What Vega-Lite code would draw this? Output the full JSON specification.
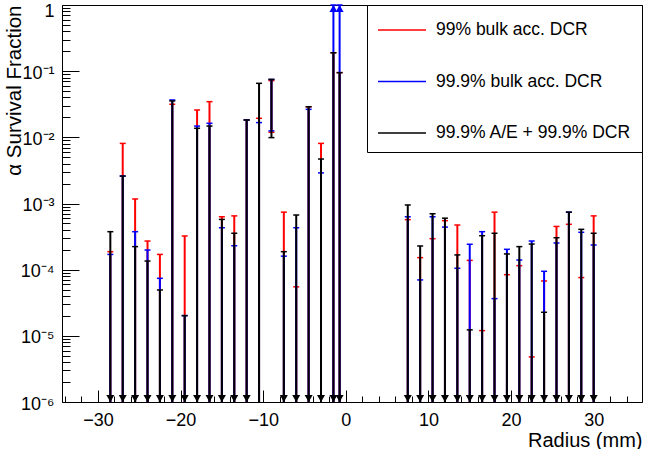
{
 "$schema": "https://vega.github.io/schema/vega-lite/v6.json",
 "width": 580, "height": 397,
 "autosize": {"type": "none"},
 "padding": {"left": 62, "top": 5, "right": 4, "bottom": 47},
 "background": "white",
 "config": {
  "font": "Liberation Sans",
  "view": {"stroke": "black", "strokeWidth": 1},
  "legend": {"orient": "none", "legendX": 305, "legendY": 0, "symbolType": "M-1,0H2.4286", "symbolSize": 784, "symbolStrokeWidth": 1.5, "labelFont": "Liberation Sans", "labelFontSize": 17.5, "labelColor": "black", "labelOffset": 29, "padding": 10, "rowPadding": 27.5, "fillColor": "white", "strokeColor": "black", "cornerRadius": 0, "labelLimit": 400}
 },
 "resolve": {"axis": {"x": "independent", "y": "independent"}},
 "data": {"values": [
  {"r":-28.5,"s":"99% bulk acc. DCR","lo":1e-6,"hi":1.87e-4,"a":"down"},
  {"r":-28.5,"s":"99.9% bulk acc. DCR","lo":1e-6,"hi":1.7e-4,"a":"down"},
  {"r":-28.5,"s":"99.9% A/E + 99.9% DCR","lo":1e-6,"hi":3.75e-4,"a":"down"},
  {"r":-27,"s":"99% bulk acc. DCR","lo":1e-6,"hi":8.1e-3,"a":"down"},
  {"r":-27,"s":"99.9% bulk acc. DCR","lo":1e-6,"hi":2.6e-3,"a":"down"},
  {"r":-27,"s":"99.9% A/E + 99.9% DCR","lo":1e-6,"hi":2.6e-3,"a":"down"},
  {"r":-25.5,"s":"99% bulk acc. DCR","lo":1e-6,"hi":1.17e-3,"a":"down"},
  {"r":-25.5,"s":"99.9% bulk acc. DCR","lo":1e-6,"hi":3.75e-4,"a":"down"},
  {"r":-25.5,"s":"99.9% A/E + 99.9% DCR","lo":1e-6,"hi":2.23e-4,"a":"down"},
  {"r":-24,"s":"99% bulk acc. DCR","lo":1e-6,"hi":2.71e-4,"a":"down"},
  {"r":-24,"s":"99.9% bulk acc. DCR","lo":1e-6,"hi":1.98e-4,"a":"down"},
  {"r":-24,"s":"99.9% A/E + 99.9% DCR","lo":1e-6,"hi":1.35e-4,"a":"down"},
  {"r":-22.5,"s":"99% bulk acc. DCR","lo":1e-6,"hi":1.7e-4,"a":"down"},
  {"r":-22.5,"s":"99.9% bulk acc. DCR","lo":1e-6,"hi":7.4e-5,"a":"down"},
  {"r":-22.5,"s":"99.9% A/E + 99.9% DCR","lo":1e-6,"hi":4.93e-5,"a":"down"},
  {"r":-21,"s":"99% bulk acc. DCR","lo":1e-6,"hi":0.0316,"a":"down"},
  {"r":-21,"s":"99.9% bulk acc. DCR","lo":1e-6,"hi":0.0367,"a":"down"},
  {"r":-21,"s":"99.9% A/E + 99.9% DCR","lo":1e-6,"hi":0.0355,"a":"down"},
  {"r":-19.5,"s":"99% bulk acc. DCR","lo":1e-6,"hi":3.23e-4,"a":"down"},
  {"r":-19.5,"s":"99.9% bulk acc. DCR","lo":1e-6,"hi":2.02e-5,"a":"down"},
  {"r":-19.5,"s":"99.9% A/E + 99.9% DCR","lo":1e-6,"hi":2.02e-5,"a":"down"},
  {"r":-18,"s":"99% bulk acc. DCR","lo":1e-6,"hi":0.0259,"a":"down"},
  {"r":-18,"s":"99.9% bulk acc. DCR","lo":1e-6,"hi":0.0148,"a":"down"},
  {"r":-18,"s":"99.9% A/E + 99.9% DCR","lo":1e-6,"hi":0.0137,"a":"down"},
  {"r":-16.5,"s":"99% bulk acc. DCR","lo":1e-6,"hi":0.0346,"a":"down"},
  {"r":-16.5,"s":"99.9% bulk acc. DCR","lo":1e-6,"hi":0.0163,"a":"down"},
  {"r":-16.5,"s":"99.9% A/E + 99.9% DCR","lo":1e-6,"hi":0.0148,"a":"down"},
  {"r":-15,"s":"99% bulk acc. DCR","lo":1e-6,"hi":6.3e-4,"a":"down"},
  {"r":-15,"s":"99.9% bulk acc. DCR","lo":1e-6,"hi":4.3e-4,"a":"down"},
  {"r":-15,"s":"99.9% A/E + 99.9% DCR","lo":1e-6,"hi":5.75e-4,"a":"down"},
  {"r":-13.5,"s":"99% bulk acc. DCR","lo":1e-6,"hi":6.5e-4,"a":"down"},
  {"r":-13.5,"s":"99.9% bulk acc. DCR","lo":1e-6,"hi":2.3e-4,"a":"down"},
  {"r":-13.5,"s":"99.9% A/E + 99.9% DCR","lo":1e-6,"hi":3.55e-4,"a":"down"},
  {"r":-12,"s":"99% bulk acc. DCR","lo":1e-6,"hi":0.0183,"a":"down"},
  {"r":-12,"s":"99.9% bulk acc. DCR","lo":1e-6,"hi":0.0183,"a":"down"},
  {"r":-12,"s":"99.9% A/E + 99.9% DCR","lo":1e-6,"hi":0.0183,"a":"down"},
  {"r":-10.5,"s":"99% bulk acc. DCR","lo":1e-6,"hi":0.0194,"a":"none"},
  {"r":-10.5,"s":"99.9% bulk acc. DCR","lo":1e-6,"hi":0.0167,"a":"none"},
  {"r":-10.5,"s":"99.9% A/E + 99.9% DCR","lo":1e-6,"hi":0.0655,"a":"none"},
  {"r":-9,"s":"99% bulk acc. DCR","lo":0.0119,"hi":0.072,"a":"none"},
  {"r":-9,"s":"99.9% bulk acc. DCR","lo":0.0125,"hi":0.075,"a":"none"},
  {"r":-9,"s":"99.9% A/E + 99.9% DCR","lo":0.0099,"hi":0.075,"a":"none"},
  {"r":-7.5,"s":"99% bulk acc. DCR","lo":1e-6,"hi":7.4e-4,"a":"down"},
  {"r":-7.5,"s":"99.9% bulk acc. DCR","lo":1e-6,"hi":1.6e-4,"a":"down"},
  {"r":-7.5,"s":"99.9% A/E + 99.9% DCR","lo":1e-6,"hi":1.87e-4,"a":"down"},
  {"r":-6,"s":"99% bulk acc. DCR","lo":1e-6,"hi":5.5e-5,"a":"down"},
  {"r":-6,"s":"99.9% bulk acc. DCR","lo":1e-6,"hi":4.3e-4,"a":"down"},
  {"r":-6,"s":"99.9% A/E + 99.9% DCR","lo":1e-6,"hi":6.7e-4,"a":"down"},
  {"r":-4.5,"s":"99% bulk acc. DCR","lo":1e-6,"hi":0.029,"a":"down"},
  {"r":-4.5,"s":"99.9% bulk acc. DCR","lo":1e-6,"hi":0.0265,"a":"down"},
  {"r":-4.5,"s":"99.9% A/E + 99.9% DCR","lo":1e-6,"hi":0.029,"a":"down"},
  {"r":-3,"s":"99% bulk acc. DCR","lo":1e-6,"hi":8.1e-3,"a":"down"},
  {"r":-3,"s":"99.9% bulk acc. DCR","lo":1e-6,"hi":2.9e-3,"a":"down"},
  {"r":-3,"s":"99.9% A/E + 99.9% DCR","lo":1e-6,"hi":4.7e-3,"a":"down"},
  {"r":-1.5,"s":"99% bulk acc. DCR","lo":1e-6,"hi":0.19,"a":"down"},
  {"r":-1.5,"s":"99.9% bulk acc. DCR","lo":1e-6,"hi":1,"a":"up"},
  {"r":-1.5,"s":"99.9% A/E + 99.9% DCR","lo":1e-6,"hi":0.19,"a":"down"},
  {"r":-0.75,"s":"99% bulk acc. DCR","lo":1e-6,"hi":0.095,"a":"down"},
  {"r":-0.75,"s":"99.9% bulk acc. DCR","lo":1e-6,"hi":1,"a":"up"},
  {"r":-0.75,"s":"99.9% A/E + 99.9% DCR","lo":1e-6,"hi":0.095,"a":"down"},
  {"r":7.5,"s":"99% bulk acc. DCR","lo":1e-6,"hi":5.7e-4,"a":"down"},
  {"r":7.5,"s":"99.9% bulk acc. DCR","lo":1e-6,"hi":6.3e-4,"a":"down"},
  {"r":7.5,"s":"99.9% A/E + 99.9% DCR","lo":1e-6,"hi":9.5e-4,"a":"down"},
  {"r":9,"s":"99% bulk acc. DCR","lo":1e-6,"hi":1.52e-4,"a":"down"},
  {"r":9,"s":"99.9% bulk acc. DCR","lo":1e-6,"hi":7.0e-5,"a":"down"},
  {"r":9,"s":"99.9% A/E + 99.9% DCR","lo":1e-6,"hi":2.28e-4,"a":"down"},
  {"r":10.5,"s":"99% bulk acc. DCR","lo":1e-6,"hi":2.94e-4,"a":"down"},
  {"r":10.5,"s":"99.9% bulk acc. DCR","lo":1e-6,"hi":6.3e-4,"a":"down"},
  {"r":10.5,"s":"99.9% A/E + 99.9% DCR","lo":1e-6,"hi":7.0e-4,"a":"down"},
  {"r":12,"s":"99% bulk acc. DCR","lo":1e-6,"hi":5.5e-4,"a":"down"},
  {"r":12,"s":"99.9% bulk acc. DCR","lo":1e-6,"hi":4.4e-4,"a":"down"},
  {"r":12,"s":"99.9% A/E + 99.9% DCR","lo":1e-6,"hi":6.0e-4,"a":"down"},
  {"r":13.5,"s":"99% bulk acc. DCR","lo":1e-6,"hi":4.73e-4,"a":"down"},
  {"r":13.5,"s":"99.9% bulk acc. DCR","lo":1e-6,"hi":1.05e-4,"a":"down"},
  {"r":13.5,"s":"99.9% A/E + 99.9% DCR","lo":1e-6,"hi":1.67e-4,"a":"down"},
  {"r":15,"s":"99% bulk acc. DCR","lo":1e-6,"hi":1.38e-4,"a":"down"},
  {"r":15,"s":"99.9% bulk acc. DCR","lo":1e-6,"hi":2.42e-4,"a":"down"},
  {"r":15,"s":"99.9% A/E + 99.9% DCR","lo":1e-6,"hi":1.23e-5,"a":"down"},
  {"r":16.5,"s":"99% bulk acc. DCR","lo":1e-6,"hi":1.2e-5,"a":"down"},
  {"r":16.5,"s":"99.9% bulk acc. DCR","lo":1e-6,"hi":3.75e-4,"a":"down"},
  {"r":16.5,"s":"99.9% A/E + 99.9% DCR","lo":1e-6,"hi":3.26e-4,"a":"down"},
  {"r":18,"s":"99% bulk acc. DCR","lo":1e-6,"hi":7.4e-4,"a":"down"},
  {"r":18,"s":"99.9% bulk acc. DCR","lo":1e-6,"hi":3.65e-5,"a":"down"},
  {"r":18,"s":"99.9% A/E + 99.9% DCR","lo":1e-6,"hi":3.55e-4,"a":"down"},
  {"r":19.5,"s":"99% bulk acc. DCR","lo":1e-6,"hi":8.4e-5,"a":"down"},
  {"r":19.5,"s":"99.9% bulk acc. DCR","lo":1e-6,"hi":2.03e-4,"a":"down"},
  {"r":19.5,"s":"99.9% A/E + 99.9% DCR","lo":1e-6,"hi":1.73e-4,"a":"down"},
  {"r":21,"s":"99% bulk acc. DCR","lo":1e-6,"hi":1.15e-4,"a":"down"},
  {"r":21,"s":"99.9% bulk acc. DCR","lo":1e-6,"hi":1.4e-4,"a":"down"},
  {"r":21,"s":"99.9% A/E + 99.9% DCR","lo":1e-6,"hi":2.23e-4,"a":"down"},
  {"r":22.5,"s":"99% bulk acc. DCR","lo":1e-6,"hi":4.8e-6,"a":"down"},
  {"r":22.5,"s":"99.9% bulk acc. DCR","lo":1e-6,"hi":2.71e-4,"a":"down"},
  {"r":22.5,"s":"99.9% A/E + 99.9% DCR","lo":1e-6,"hi":2.44e-4,"a":"down"},
  {"r":24,"s":"99% bulk acc. DCR","lo":1e-6,"hi":6.75e-5,"a":"down"},
  {"r":24,"s":"99.9% bulk acc. DCR","lo":1e-6,"hi":9.45e-5,"a":"down"},
  {"r":24,"s":"99.9% A/E + 99.9% DCR","lo":1e-6,"hi":2.27e-5,"a":"down"},
  {"r":25.5,"s":"99% bulk acc. DCR","lo":1e-6,"hi":4.5e-4,"a":"down"},
  {"r":25.5,"s":"99.9% bulk acc. DCR","lo":1e-6,"hi":2.53e-4,"a":"down"},
  {"r":25.5,"s":"99.9% A/E + 99.9% DCR","lo":1e-6,"hi":3.04e-4,"a":"down"},
  {"r":27,"s":"99% bulk acc. DCR","lo":1e-6,"hi":4.85e-4,"a":"down"},
  {"r":27,"s":"99.9% bulk acc. DCR","lo":1e-6,"hi":7.4e-4,"a":"down"},
  {"r":27,"s":"99.9% A/E + 99.9% DCR","lo":1e-6,"hi":7.4e-4,"a":"down"},
  {"r":28.5,"s":"99% bulk acc. DCR","lo":1e-6,"hi":7.6e-5,"a":"down"},
  {"r":28.5,"s":"99.9% bulk acc. DCR","lo":1e-6,"hi":3.67e-4,"a":"down"},
  {"r":28.5,"s":"99.9% A/E + 99.9% DCR","lo":1e-6,"hi":4.07e-4,"a":"down"},
  {"r":30,"s":"99% bulk acc. DCR","lo":1e-6,"hi":6.5e-4,"a":"down"},
  {"r":30,"s":"99.9% bulk acc. DCR","lo":1e-6,"hi":2.36e-4,"a":"down"},
  {"r":30,"s":"99.9% A/E + 99.9% DCR","lo":1e-6,"hi":3.55e-4,"a":"down"}
 ]},
 "encoding": {
  "x": {"field": "r", "type": "quantitative", "scale": {"domain": [-34.35, 35.85], "nice": false, "zero": false}, "axis": null}
 },
 "layer": [
  {"transform": [{"filter": "datum.s == '99% bulk acc. DCR'"}],
   "mark": {"type": "rule", "strokeWidth": 2},
   "encoding": {
    "x": {"field": "r", "type": "quantitative", "scale": {"domain": [-34.35, 35.85], "nice": false, "zero": false},
     "axis": {"orient": "bottom", "title": "Radius (mm)", "values": [-30,-20,-10,0,10,20,30], "format": "d",
      "tickSize": -12, "tickColor": "black", "domainColor": "black", "labelColor": "black", "titleColor": "black",
      "labelFontSize": 18, "titleFontSize": 20, "titleFontWeight": "normal", "titleAnchor": "end",
      "labelPadding": 21, "titlePadding": 1, "grid": false, "labelOverlap": false, "labelFlush": false, "labelBound": false}},
    "y": {"field": "lo", "type": "quantitative",
     "scale": {"type": "log", "domain": [1e-6, 1], "nice": false},
     "axis": {"orient": "left", "title": "α Survival Fraction",
      "values": [1e-6,1e-5,1e-4,1e-3,0.01,0.1,1],
      "labelExpr": "['10⁻⁶','10⁻⁵','10⁻⁴','10⁻³','10⁻²','10⁻¹','1'][round(log(datum.value)/LN10)+6]",
      "tickSize": -17, "tickColor": "black", "domainColor": "black", "labelColor": "black", "titleColor": "black",
      "labelFontSize": 18, "titleFontSize": 20.5, "titleFontWeight": "normal", "titleAnchor": "end",
      "labelPadding": 25, "labelOffset": {"condition": {"test": "datum.value > 0.5", "value": 6}, "value": 2},
      "titlePadding": -4, "grid": false, "labelOverlap": false, "labelFlush": false, "labelBound": false}},
    "y2": {"field": "hi"},
    "color": {"field": "s", "type": "nominal", "title": null,
     "scale": {"domain": ["99% bulk acc. DCR", "99.9% bulk acc. DCR", "99.9% A/E + 99.9% DCR"], "range": ["#ff0000", "#0000ff", "#000000"]}}
   }},
  {"transform": [{"filter": "datum.s == '99% bulk acc. DCR'"}],
   "mark": {"type": "point", "shape": "stroke", "size": 36, "strokeWidth": 1.5, "filled": false, "opacity": 1},
   "encoding": {
    "x": {"field": "r", "type": "quantitative", "scale": {"domain": [-34.35, 35.85], "nice": false, "zero": false},
     "axis": {"orient": "bottom", "title": null, "values": [-34,-32,-28,-26,-24,-22,-18,-16,-14,-12,-8,-6,-4,-2,2,4,6,8,12,14,16,18,22,24,26,28,32,34],
      "labels": false, "domain": false, "tickSize": -6, "tickColor": "black", "grid": false}},
    "y": {"field": "hi", "type": "quantitative", "scale": {"type": "log", "domain": [1e-6, 1], "nice": false},
     "axis": {"orient": "left", "title": null, "labels": false, "domain": false, "tickSize": -8, "tickColor": "black", "grid": false,
      "values": [2e-6,3e-6,4e-6,5e-6,6e-6,7e-6,8e-6,9e-6,2e-5,3e-5,4e-5,5e-5,6e-5,7e-5,8e-5,9e-5,2e-4,3e-4,4e-4,5e-4,6e-4,7e-4,8e-4,9e-4,2e-3,3e-3,4e-3,5e-3,6e-3,7e-3,8e-3,9e-3,0.02,0.03,0.04,0.05,0.06,0.07,0.08,0.09,0.2,0.3,0.4,0.5,0.6,0.7,0.8,0.9]}},
    "color": {"field": "s", "type": "nominal", "title": null}}},
  {"transform": [{"filter": "datum.s == '99% bulk acc. DCR' && datum.a == 'none' && datum.lo > 1.01e-6"}],
   "mark": {"type": "point", "shape": "stroke", "size": 36, "strokeWidth": 1.5, "filled": false, "opacity": 1},
   "encoding": {"y": {"field": "lo", "type": "quantitative", "scale": {"type": "log", "domain": [1e-6, 1], "nice": false}, "axis": null},
    "color": {"field": "s", "type": "nominal", "title": null}}},
  {"transform": [{"filter": "datum.s == '99.9% bulk acc. DCR'"}],
   "mark": {"type": "rule", "strokeWidth": 2},
   "encoding": {"y": {"field": "lo", "type": "quantitative", "scale": {"type": "log", "domain": [1e-6, 1], "nice": false}, "axis": null},
    "y2": {"field": "hi"},
    "color": {"field": "s", "type": "nominal", "title": null}}},
  {"transform": [{"filter": "datum.s == '99.9% bulk acc. DCR'"}],
   "mark": {"type": "point", "shape": "stroke", "size": 36, "strokeWidth": 1.5, "filled": false, "opacity": 1},
   "encoding": {"y": {"field": "hi", "type": "quantitative", "scale": {"type": "log", "domain": [1e-6, 1], "nice": false}, "axis": null},
    "color": {"field": "s", "type": "nominal", "title": null}}},
  {"transform": [{"filter": "datum.s == '99.9% bulk acc. DCR' && datum.a == 'none' && datum.lo > 1.01e-6"}],
   "mark": {"type": "point", "shape": "stroke", "size": 36, "strokeWidth": 1.5, "filled": false, "opacity": 1},
   "encoding": {"y": {"field": "lo", "type": "quantitative", "scale": {"type": "log", "domain": [1e-6, 1], "nice": false}, "axis": null},
    "color": {"field": "s", "type": "nominal", "title": null}}},
  {"transform": [{"filter": "datum.s == '99.9% A/E + 99.9% DCR'"}],
   "mark": {"type": "rule", "strokeWidth": 2},
   "encoding": {"y": {"field": "lo", "type": "quantitative", "scale": {"type": "log", "domain": [1e-6, 1], "nice": false}, "axis": null},
    "y2": {"field": "hi"},
    "color": {"field": "s", "type": "nominal", "title": null}}},
  {"transform": [{"filter": "datum.s == '99.9% A/E + 99.9% DCR'"}],
   "mark": {"type": "point", "shape": "stroke", "size": 36, "strokeWidth": 1.5, "filled": false, "opacity": 1},
   "encoding": {"y": {"field": "hi", "type": "quantitative", "scale": {"type": "log", "domain": [1e-6, 1], "nice": false}, "axis": null},
    "color": {"field": "s", "type": "nominal", "title": null}}},
  {"transform": [{"filter": "datum.s == '99.9% A/E + 99.9% DCR' && datum.a == 'none' && datum.lo > 1.01e-6"}],
   "mark": {"type": "point", "shape": "stroke", "size": 36, "strokeWidth": 1.5, "filled": false, "opacity": 1},
   "encoding": {"y": {"field": "lo", "type": "quantitative", "scale": {"type": "log", "domain": [1e-6, 1], "nice": false}, "axis": null},
    "color": {"field": "s", "type": "nominal", "title": null}}},
  {"transform": [{"filter": "datum.s == '99.9% A/E + 99.9% DCR' && datum.a == 'down'"}],
   "mark": {"type": "point", "shape": "triangle-down", "size": 64, "filled": true, "color": "#000000", "opacity": 1, "yOffset": -3.5},
   "encoding": {"y": {"field": "lo", "type": "quantitative", "scale": {"type": "log", "domain": [1e-6, 1], "nice": false}, "axis": null}}},
  {"transform": [{"filter": "datum.a == 'up'"}],
   "mark": {"type": "point", "shape": "triangle-up", "size": 64, "filled": true, "color": "#0000ff", "opacity": 1, "yOffset": 3.5},
   "encoding": {"y": {"field": "hi", "type": "quantitative", "scale": {"type": "log", "domain": [1e-6, 1], "nice": false}, "axis": null}}}
 ]
}
